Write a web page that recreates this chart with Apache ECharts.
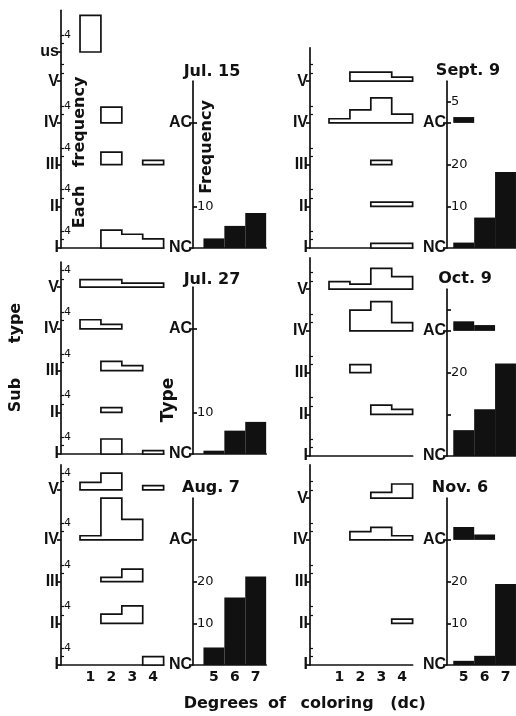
<!DOCTYPE html>
<html><head><meta charset="utf-8">
<script src="https://cdn.jsdelivr.net/npm/echarts@6/dist/echarts.min.js"></script>
<style>html,body{margin:0;padding:0;background:#fff}#c{width:516px;height:716px}</style>
</head><body><div id="c"></div>
<script>
// ---------- data ----------
const panelTitles = ['Jul. 15', 'Jul. 27', 'Aug. 7', 'Sept. 9', 'Oct. 9', 'Nov. 6'];
const subtypeNames = ['I', 'II', 'III', 'IV', 'V', 'us'];
const dcLeft = [1, 2, 3, 4];
const dcRight = [5, 6, 7];
const leftTickLabels = ['1', '2', '3', '4'];
const rightTickLabels = ['5', '6', '7'];
// frequency of each sub type for dc 1..4, rows in order I, II, III, IV, V, us
const jul15Sub = [[0, 4.3, 3.3, 2.2], [0, 0, 0, 0], [0, 3, 0, 1], [0, 3.8, 0, 0], [0, 0, 0, 0], [8.8, 0, 0, 0]];
const jul27Sub = [[0, 3.6, 0, 0.8], [0, 1.1, 0, 0], [0, 2.2, 1.2, 0], [2.2, 1.1, 0, 0], [1.8, 1.8, 1, 1]];
const aug7Sub = [[0, 0, 0, 2], [0, 2.2, 4.2, 0], [0, 1, 3, 0], [1, 10, 4.9, 0], [1.8, 4, 0, 1]];
const sep9Sub = [[0, 0, 1.1, 1.1], [0, 0, 1, 1], [0, 0, 1, 0], [1, 3.1, 6, 2.1], [0, 2.2, 2.2, 1]];
const oct9Sub = [[0, 0, 0, 0], [0, 0, 2.2, 1.2], [0, 1.9, 0, 0], [0, 5, 7, 2], [1.8, 1.2, 5, 3]];
const nov6Sub = [[0, 0, 0, 0], [0, 0, 0, 1], [0, 0, 0, 0], [0, 2, 3, 1], [0, 0, 1.4, 3.4]];
// type frequency for dc 5..7 : NC and AC
const jul15NC = [2.3, 5.3, 8.4], jul15AC = [0, 0, 0];
const jul27NC = [0.8, 5.6, 7.7], jul27AC = [0, 0, 0];
const aug7NC = [4.2, 16.2, 21.2], aug7AC = [0, 0, 0];
const sep9NC = [1.3, 7.3, 18.2], sep9AC = [1.4, 0, 0];
const oct9NC = [6.2, 11.2, 22.2], oct9AC = [2.3, 1.4, 0];
const nov6NC = [1, 2.2, 19.4], nov6AC = [3.1, 1.3, 0];
// baseline levels of the sub types (I..V, us) on the stacked axis
const basesStd = [0, 10, 20, 30, 40];
const basesJul15 = [0, 10, 20, 30, 40, 47];
const basesAug7 = [0, 10, 20, 30, 42];
const typeLevels = [0, 30];
const typeNames = ['NC', 'AC'];
const axisTitleWords = ['Degrees', 'of', 'coloring', '(dc)'];

// ---------- layout ----------
const U = 4.17;   // px per frequency unit
const XU = 20.9;  // px per dc unit
const LMIN = -0.41, LMAX = 4.5, RMAX = 7.5, RTOP = 40;
const ink = '#111';
const panels = [
  { t: 0, sub: jul15Sub, nc: jul15NC, ac: jul15AC, bases: basesJul15, fourSkip: [4], baseY: 248, lx: 61, rx: 193, rMin: 4.0, lMax: 57, four: true, rLab: [10], rTick: [10, 30], tx: 212, ty: 72, bottom: false },
  { t: 1, sub: jul27Sub, nc: jul27NC, ac: jul27AC, bases: basesStd, fourSkip: [], baseY: 454, lx: 61, rx: 193, rMin: 4.0, lMax: 46, four: true, rLab: [10], rTick: [10, 30], tx: 212, ty: 280, bottom: false },
  { t: 2, sub: aug7Sub, nc: aug7NC, ac: aug7AC, bases: basesAug7, fourSkip: [], baseY: 665, lx: 61, rx: 193, rMin: 4.0, lMax: 48, four: true, rLab: [10, 20], rTick: [10, 20, 30], tx: 211, ty: 488, bottom: true },
  { t: 3, sub: sep9Sub, nc: sep9NC, ac: sep9AC, bases: basesStd, fourSkip: [], baseY: 248, lx: 310, rx: 447, rMin: 4.2, lMax: 48, four: false, rLab: [10, 20, 35], rTick: [10, 20, 30, 35], tx: 468, ty: 71, bottom: false },
  { t: 4, sub: oct9Sub, nc: oct9NC, ac: oct9AC, bases: basesStd, fourSkip: [], baseY: 456, lx: 310, rx: 447, rMin: 4.2, lMax: 47.5, four: false, rLab: [20], rTick: [10, 20, 30, 35], tx: 465, ty: 279, bottom: false },
  { t: 5, sub: nov6Sub, nc: nov6NC, ac: nov6AC, bases: basesStd, fourSkip: [], baseY: 665, lx: 310, rx: 447, rMin: 4.2, lMax: 48, four: false, rLab: [10, 20], rTick: [10, 20, 30], tx: 460, ty: 488, bottom: true }
];
const axisTitlePos = [[221, 704], [277, 704], [337, 704], [408, 704]];

function histRender(params, api) {
  const base = api.value(0);
  const vals = [api.value(1), api.value(2), api.value(3), api.value(4)];
  const children = [];
  let i = 0;
  while (i < 4) {
    if (!(vals[i] > 0)) { i++; continue; }
    let j = i;
    while (j + 1 < 4 && vals[j + 1] > 0) j++;
    const pts = [api.coord([dcLeft[i] - 0.5, base])];
    for (let k = i; k <= j; k++) {
      pts.push(api.coord([dcLeft[k] - 0.5, base + vals[k]]));
      pts.push(api.coord([dcLeft[k] + 0.5, base + vals[k]]));
    }
    pts.push(api.coord([dcLeft[j] + 0.5, base]));
    children.push({ type: 'polygon', shape: { points: pts }, style: { fill: '#fff', stroke: ink, lineWidth: 1.7, lineJoin: 'miter' } });
    i = j + 1;
  }
  return { type: 'group', children };
}
function barRender(params, api) {
  const x = api.value(0), b = api.value(1), v = api.value(2);
  const p0 = api.coord([x - 0.5, b + v]);
  const p1 = api.coord([x + 0.5, b]);
  return { type: 'rect', shape: { x: p0[0], y: p0[1], width: p1[0] - p0[0], height: p1[1] - p0[1] }, style: { fill: '#111' } };
}

const grids = [], xAxes = [], yAxes = [], series = [], texts = [];
const lineStyle = { color: ink, width: 1.7 };
panels.forEach((p) => {
  const gL = grids.length;
  grids.push({ left: p.lx, top: p.baseY - p.lMax * U, width: (LMAX - LMIN) * XU, height: p.lMax * U, outerBoundsMode: 'none' });
  grids.push({ left: p.rx, top: p.baseY - RTOP * U, width: (RMAX - p.rMin) * XU, height: RTOP * U, outerBoundsMode: 'none' });
  const xL = xAxes.length;
  xAxes.push({ gridIndex: gL, type: 'value', min: LMIN, max: LMAX, splitLine: { show: false },
    axisLine: { show: true, onZero: false, lineStyle }, axisTick: { show: false },
    axisLabel: p.bottom ? { show: true, customValues: dcLeft, formatter: v => leftTickLabels[dcLeft.indexOf(v)] || '', color: ink, fontFamily: 'DejaVu Sans', fontWeight: 'bold', fontSize: 14, margin: 5 } : { show: false } });
  xAxes.push({ gridIndex: gL + 1, type: 'value', min: p.rMin, max: RMAX, splitLine: { show: false },
    axisLine: { show: true, onZero: false, lineStyle }, axisTick: { show: false },
    axisLabel: p.bottom ? { show: true, customValues: dcRight, formatter: v => rightTickLabels[dcRight.indexOf(v)] || '', color: ink, fontFamily: 'DejaVu Sans', fontWeight: 'bold', fontSize: 14, margin: 5 } : { show: false } });
  const yL = yAxes.length;
  const bases = p.bases.slice(0, p.sub.length);
  const fours = bases.filter((b, i) => p.fourSkip.indexOf(i) < 0).map(b => b + 4);
  const innerTicks = [];
  bases.forEach(b => { innerTicks.push(b + 2, b + 4); });
  // left subplot: sub type names (outer) and "4" scale marks (inner)
  yAxes.push({ gridIndex: gL, type: 'value', position: 'left', min: 0, max: p.lMax, splitLine: { show: false },
    axisLine: { show: true, onZero: false, lineStyle },
    axisTick: { show: true, customValues: bases, length: 4, lineStyle },
    axisLabel: { show: true, customValues: bases, formatter: v => subtypeNames[bases.indexOf(v)] || '', color: ink, fontFamily: 'Liberation Sans', fontWeight: 'bold', fontSize: 16, margin: 2 } });
  yAxes.push({ gridIndex: gL, type: 'value', position: 'left', min: 0, max: p.lMax, splitLine: { show: false },
    axisLine: { show: false, onZero: false },
    axisTick: { show: true, inside: true, customValues: innerTicks, length: 3, lineStyle: { color: ink, width: 1.2 } },
    axisLabel: p.four ? { show: true, inside: true, customValues: fours, formatter: () => '4', color: ink, fontFamily: 'DejaVu Sans', fontSize: 11, margin: 3 } : { show: false } });
  // right subplot: NC / AC (outer) and frequency numbers (inner)
  yAxes.push({ gridIndex: gL + 1, type: 'value', position: 'left', min: 0, max: RTOP, splitLine: { show: false },
    axisLine: { show: true, onZero: false, lineStyle },
    axisTick: { show: true, customValues: typeLevels, length: 4, lineStyle },
    axisLabel: { show: true, customValues: typeLevels, formatter: v => typeNames[typeLevels.indexOf(v)] || '', color: ink, fontFamily: 'Liberation Sans', fontWeight: 'bold', fontSize: 16, margin: 1 } });
  yAxes.push({ gridIndex: gL + 1, type: 'value', position: 'left', min: 0, max: RTOP, splitLine: { show: false },
    axisLine: { show: false, onZero: false },
    axisTick: { show: true, inside: true, customValues: p.rTick, length: 4, lineStyle },
    axisLabel: { show: true, inside: true, customValues: p.rLab, formatter: v => (v >= 30 ? String(v - 30) : String(v)), color: ink, fontFamily: 'DejaVu Sans', fontSize: 13, margin: 4 } });

  const hData = [];
  p.sub.forEach((row, si) => { if (row.some(v => v > 0)) hData.push([bases[si]].concat(row)); });
  series.push({ type: 'custom', xAxisIndex: xL, yAxisIndex: yL, renderItem: histRender, data: hData, silent: true, animation: false, clip: false });
  const bData = [];
  dcRight.forEach((d, i) => {
    if (p.nc[i] > 0) bData.push([d, typeLevels[0], p.nc[i]]);
    if (p.ac[i] > 0) bData.push([d, typeLevels[1], p.ac[i]]);
  });
  series.push({ type: 'custom', xAxisIndex: xL + 1, yAxisIndex: yL + 2, renderItem: barRender, data: bData, silent: true, animation: false, clip: false });

  texts.push({ type: 'text', x: p.tx, y: p.ty, style: { text: panelTitles[p.t], x: 0, y: 0, align: 'center', verticalAlign: 'middle', fill: ink, font: 'bold 16px "DejaVu Sans"' } });
});

const vt = (txt, x, y, size) => ({ type: 'text', x, y, rotation: Math.PI / 2, style: { text: txt, x: 0, y: 0, align: 'center', verticalAlign: 'middle', fill: ink, font: 'bold ' + size + 'px "DejaVu Sans"' } });
texts.push(vt('Each', 80, 207, 16));
texts.push(vt('frequency', 80, 122, 16));
texts.push(vt('Frequency', 207, 147, 16));
texts.push(vt('Type', 169, 400, 17));
texts.push(vt('Sub', 16, 395, 16));
texts.push(vt('type', 16, 323, 16));
axisTitleWords.forEach((w, i) => {
  texts.push({ type: 'text', x: axisTitlePos[i][0], y: axisTitlePos[i][1], style: { text: w, x: 0, y: 0, align: 'center', verticalAlign: 'middle', fill: ink, font: 'bold 16px "DejaVu Sans"' } });
});

const chart = echarts.init(document.getElementById('c'), null, { renderer: 'canvas' });
chart.setOption({
  backgroundColor: '#fff',
  animation: false,
  grid: grids,
  xAxis: xAxes,
  yAxis: yAxes,
  series: series,
  graphic: texts
});
</script></body></html>
